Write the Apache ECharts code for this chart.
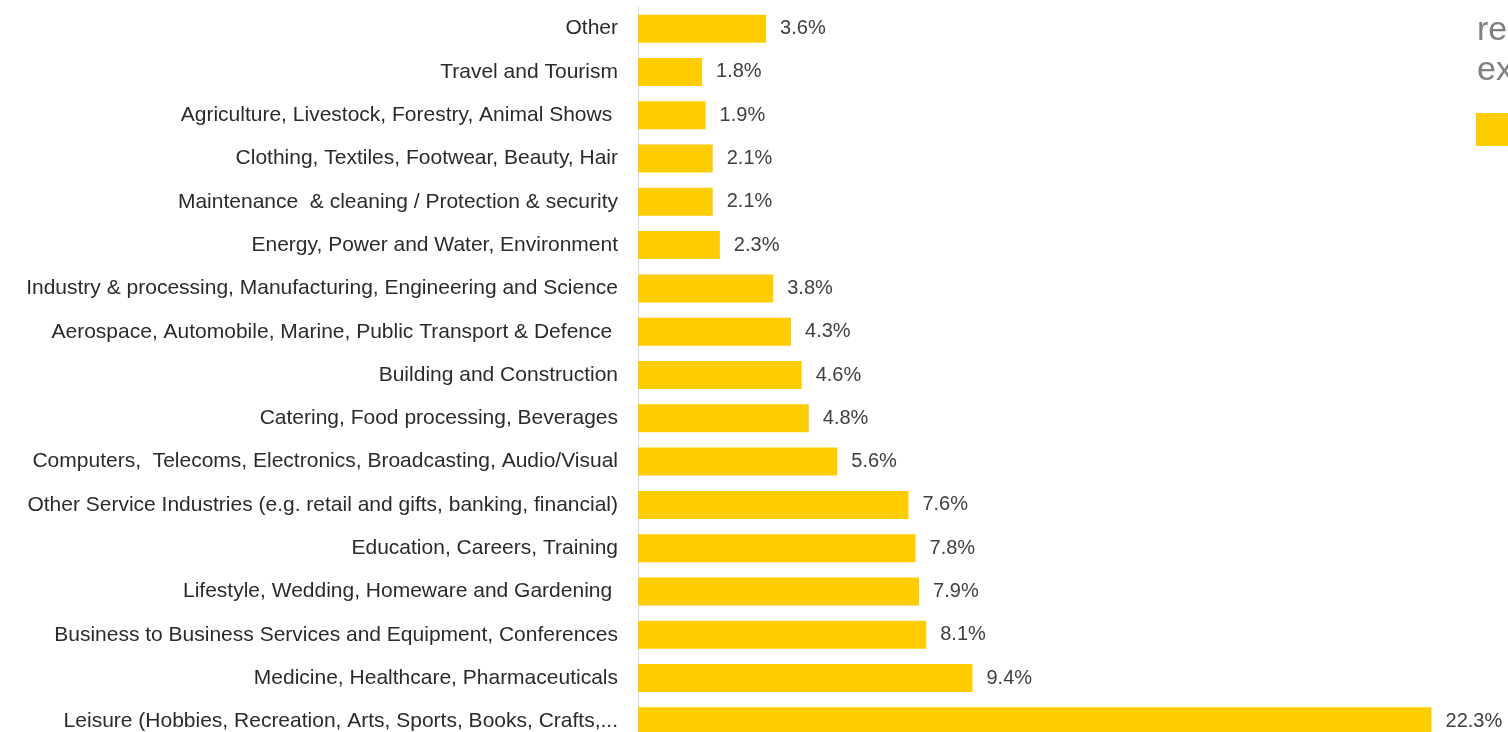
<!DOCTYPE html>
<html>
<head>
<meta charset="utf-8">
<script src="https://cdn.jsdelivr.net/npm/echarts@6/dist/echarts.min.js"></script>
<style>
html, body { margin: 0; padding: 0; background: #fff; }
#main { width: 1508px; height: 732px; }
</style>
</head>
<body>
<div id="main"></div>
<script>
// categories, top to bottom
var categories = [
    'Other',
    'Travel and Tourism',
    'Agriculture, Livestock, Forestry, Animal Shows ',
    'Clothing, Textiles, Footwear, Beauty, Hair',
    'Maintenance  & cleaning / Protection & security',
    'Energy, Power and Water, Environment',
    'Industry & processing, Manufacturing, Engineering and Science',
    'Aerospace, Automobile, Marine, Public Transport & Defence ',
    'Building and Construction',
    'Catering, Food processing, Beverages',
    'Computers,  Telecoms, Electronics, Broadcasting, Audio/Visual',
    'Other Service Industries (e.g. retail and gifts, banking, financial)',
    'Education, Careers, Training',
    'Lifestyle, Wedding, Homeware and Gardening ',
    'Business to Business Services and Equipment, Conferences',
    'Medicine, Healthcare, Pharmaceuticals',
    'Leisure (Hobbies, Recreation, Arts, Sports, Books, Crafts,...'
];
var shares = [3.6, 1.8, 1.9, 2.1, 2.1, 2.3, 3.8, 4.3, 4.6, 4.8, 5.6, 7.6, 7.8, 7.9, 8.1, 9.4, 22.3];
var legendText = ['re', 'ex'];

var chart = echarts.init(document.getElementById('main'));// 初始化
chart.setOption({
    animation: false,
    grid: { left: 638, top: 7, width: 854, height: 736, outerBoundsMode: 'none', containLabel: false },
    xAxis: {
        type: 'value', min: 0, max: 24, show: false
    },
    yAxis: {
        type: 'category',
        inverse: true,
        data: categories,
        axisLine: { show: true, lineStyle: { color: '#d9d9d9', width: 1 } },
        axisTick: { show: false },
        axisLabel: {
            margin: 20,
            fontFamily: 'Liberation Sans, Arial',
            fontSize: 21,
            color: '#2b2b2b'
        }
    },
    series: [{
        type: 'bar',
        data: shares,
        barWidth: 28,
        itemStyle: { color: '#FFCC00' },
        label: {
            show: true,
            position: 'right',
            distance: 14,
            fontFamily: 'Liberation Sans, Arial',
            fontSize: 20,
            color: '#404040',
            formatter: function (p) { return p.value.toFixed(1) + '%'; }
        }
    }],
    graphic: [
        { type: 'text', style: { x: 1477, y: 31, text: legendText[0], verticalAlign: 'middle', fontFamily: 'Liberation Sans, Arial', fontSize: 34, fill: '#808080' } },
        { type: 'text', style: { x: 1477, y: 71, text: legendText[1], verticalAlign: 'middle', fontFamily: 'Liberation Sans, Arial', fontSize: 34, fill: '#808080' } },
        { type: 'rect', shape: { x: 1476, y: 113, width: 40, height: 33 }, style: { fill: '#FFCC00' } }
    ]
});
</script>
</body>
</html>
